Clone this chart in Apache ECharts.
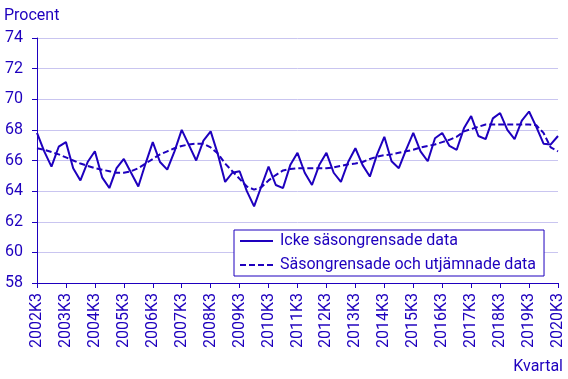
<!DOCTYPE html>
<html><head><meta charset="utf-8">
<script src="https://cdn.jsdelivr.net/npm/echarts@6/dist/echarts.min.js"></script>
<style>html,body{margin:0;padding:0;background:#fff}#c{width:568px;height:379px}</style>
</head><body><div id="c"></div>
<script>
const startYear = 2002, endYear = 2020;
const categories = [];
for (let y = startYear; y <= endYear; y++) {
  for (const q of (y === startYear ? [3,4] : (y === endYear ? [1,2,3] : [1,2,3,4]))) categories.push(y + 'K' + q);
}
const yTicks = { min: 58, max: 74, interval: 2 };
const seriesNames = ['Icke säsongrensade data', 'Säsongrensade och utjämnade data'];
const rawValues = [67.8,66.6,65.6,66.9,67.2,65.5,64.7,65.9,66.6,64.9,64.2,65.5,66.1,65.2,64.3,65.8,67.2,65.9,65.4,66.6,
  68.0,67.0,66.0,67.3,67.9,66.4,64.6,65.2,65.3,64.0,63.0,64.3,65.6,64.4,64.2,65.7,66.5,65.2,64.4,65.7,
  66.5,65.2,64.6,65.9,66.8,65.7,64.95,66.4,67.55,65.95,65.5,66.7,67.8,66.6,65.95,67.45,67.8,66.95,66.7,68.1,
  68.9,67.6,67.4,68.75,69.1,68.0,67.4,68.6,69.2,68.2,67.1,67.05,67.6];
const trendValues = [66.8,66.7,66.55,66.4,66.2,66.0,65.8,65.65,65.5,65.4,65.3,65.2,65.2,65.3,65.5,65.8,66.1,66.4,66.6,66.8,
  66.95,67.05,67.1,67.1,66.85,66.45,65.8,65.3,64.8,64.3,64.1,64.25,64.7,65.05,65.35,65.45,65.5,65.5,65.5,65.5,
  65.5,65.55,65.65,65.75,65.8,65.9,66.1,66.25,66.35,66.4,66.5,66.6,66.7,66.85,66.95,67.05,67.2,67.35,67.55,67.9,
  68.05,68.2,68.35,68.35,68.35,68.35,68.35,68.35,68.35,68.3,67.8,66.85,66.6];

const C = '#1e00be';
const FONT = 'Roboto';
const chart = echarts.init(document.getElementById('c'), null, {renderer: 'canvas'});
chart.setOption({
  animation: false,
  backgroundColor: '#fff',
  textStyle: { fontFamily: FONT, color: C },
  grid: { left: 37, right: 10, top: 38, bottom: 96, containLabel: false },
  graphic: [
    { type: 'text', left: 4, top: 8, style: { text: 'Procent', font: '16px ' + FONT, fill: C } },
    { type: 'text', right: 5, top: 359, style: { text: 'Kvartal', font: '16px ' + FONT, fill: C } }
  ],
  legend: {
    left: 234, top: 230, orient: 'vertical',
    backgroundColor: '#fff', borderColor: C, borderWidth: 1,
    padding: [3, 8, 3, 5], itemWidth: 33, itemHeight: 14, itemGap: 8,
    itemStyle: { opacity: 0 },
    textStyle: { fontFamily: FONT, fontSize: 16, color: C, padding: [0, 0, 0, 2] },
    data: seriesNames
  },
  xAxis: {
    type: 'category', data: categories, boundaryGap: false,
    axisLine: { lineStyle: { color: C, width: 1 } },
    axisTick: { interval: 3, length: 5, lineStyle: { color: C } },
    axisLabel: { interval: 3, rotate: 90, margin: 10, fontSize: 16, color: C, fontFamily: FONT },
    splitLine: { show: false }
  },
  yAxis: {
    type: 'value', min: yTicks.min, max: yTicks.max, interval: yTicks.interval,
    axisLine: { show: true, lineStyle: { color: C, width: 1 } },
    axisTick: { show: true, length: 5, lineStyle: { color: C } },
    axisLabel: { margin: 14, fontSize: 16, color: C, fontFamily: FONT },
    splitLine: { lineStyle: { color: '#c9c5f0', width: 1 } }
  },
  series: [
    { name: seriesNames[0], type: 'line', data: rawValues, symbol: 'none',
      lineStyle: { color: C, width: 2 }, itemStyle: { color: C } },
    { name: seriesNames[1], type: 'line', data: trendValues, symbol: 'none',
      lineStyle: { color: C, width: 2, type: [6, 3] }, itemStyle: { color: C } }
  ]
});
</script></body></html>
